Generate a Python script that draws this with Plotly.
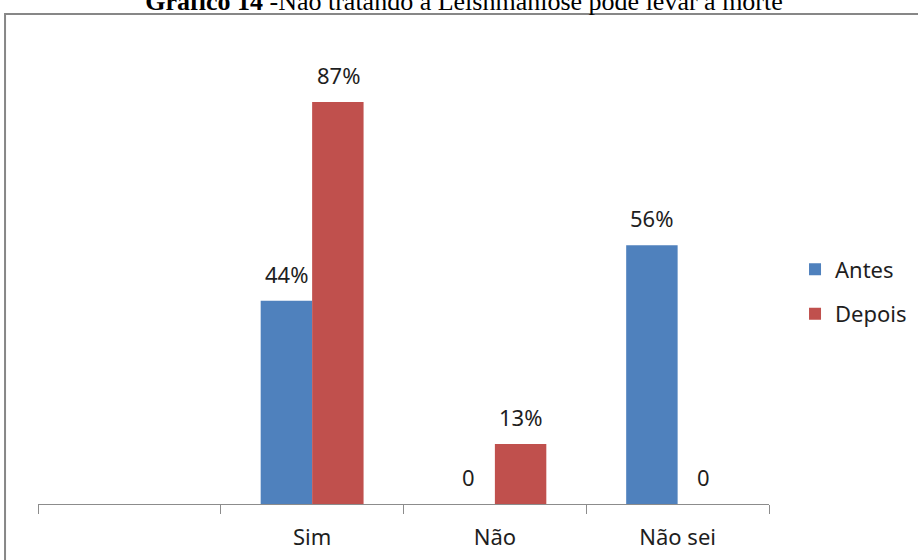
import plotly.graph_objects as go

# categories (the first slot is blank in the original)
categories = [" ", "Sim", "Não", "Não sei"]
antes = [None, 0.44, 0.0, 0.56]
depois = [None, 0.87, 0.13, 0.0]

COLOR_ANTES = "#4F81BD"
COLOR_DEPOIS = "#C0504D"
FONT = "Noto Sans"
TEXT = "#1e1e1e"


def _label(v):
    return "0" if v == 0 else f"{v:.0%}"


fig = go.Figure()
fig.add_trace(go.Bar(name="Antes", x=categories, y=antes, marker_color=COLOR_ANTES,
                     legendgroup="a", marker_line_width=0))
fig.add_trace(go.Bar(name="Depois", x=categories, y=depois, marker_color=COLOR_DEPOIS,
                     legendgroup="b", marker_line_width=0))

# value labels sit a little higher above the bars than plotly's own outside text
annotations = []
for values, shift in ((antes, -26), (depois, 26)):
    for cat, v in zip(categories, values):
        if v is None:
            continue
        annotations.append(dict(
            x=cat, y=v, xref="x", yref="y", text=_label(v), showarrow=False,
            xshift=shift, yanchor="bottom", yshift=10,
            font=dict(family=FONT, size=22, color=TEXT),
        ))

fig.update_layout(
    width=918, height=560,
    barmode="group", bargap=0.437, bargroupgap=0,
    paper_bgcolor="white", plot_bgcolor="white",
    margin=dict(l=38, r=149, t=42, b=56, autoexpand=False),
    font=dict(family=FONT, size=22, color=TEXT),
    title=dict(
        text="<b>Gráfico 14</b> -Não tratando a Leishmaniose pode levar a morte",
        font=dict(family="Liberation Serif", size=26, color="black"),
        x=0.5055, xanchor="center", xref="container",
        y=0.998, yanchor="middle", yref="container",
    ),
    legend=dict(
        x=1.0356, xanchor="left", y=0.459, yanchor="middle",
        font=dict(family=FONT, size=22, color=TEXT),
        traceorder="grouped", tracegroupgap=13,
    ),
    showlegend=True,
    annotations=annotations,
    shapes=[dict(type="rect", xref="paper", yref="paper",
                 x0=-0.0451, x1=1.3, y0=-0.2, y1=1.0606,
                 line=dict(color="#878787", width=2), fillcolor="rgba(0,0,0,0)", layer="below")],
)

fig.update_xaxes(
    showline=True, linecolor="#8c8c8c", linewidth=1,
    ticks="outside", tickson="boundaries", ticklen=9, tickcolor="#8c8c8c",
    ticklabelstandoff=14, tickfont=dict(family=FONT, size=22, color=TEXT),
    showgrid=False,
)
fig.update_yaxes(range=[0, 1], visible=False, showgrid=False)

# drop the browser's default 8px body margin so the figure sits flush in the window
fig.write_html("out.html", config={"displayModeBar": False},
               post_script="document.body.style.margin='0';")
